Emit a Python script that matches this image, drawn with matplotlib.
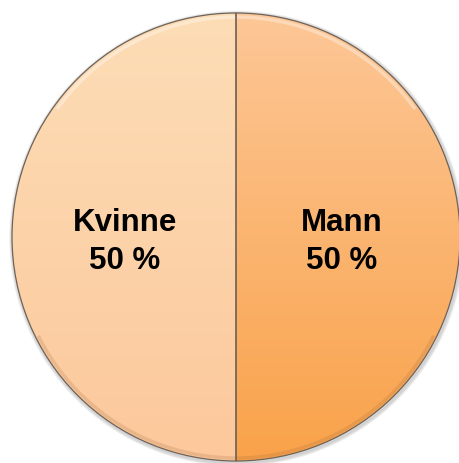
import numpy as np
import matplotlib
matplotlib.use('Agg')
import matplotlib.pyplot as plt
from matplotlib.colors import LinearSegmentedColormap

labels = ['Mann', 'Kvinne']
shares = [50, 50]
# top / bottom colour of each slice gradient
top_colors = ['#fdc797', '#fdddb6']
bottom_colors = ['#f9a24a', '#fcc89c']

plt.rcParams['font.family'] = ['Liberation Sans', 'DejaVu Sans']

fig = plt.figure(figsize=(4.59, 4.63), dpi=100)
ax = fig.add_axes([0, 0, 1, 1])

cx, cy, r = 236, 463 - 237, 224

# soft shadow
for i in range(5):
    sh = plt.Circle((cx + 1, cy - 1.5), r + 0.5 + i * 0.7, color='black', alpha=0.03, zorder=0)
    ax.add_patch(sh)

wedges, texts = ax.pie(shares, startangle=90, counterclock=False, center=(cx, cy), radius=r,
                       colors=top_colors, wedgeprops=dict(edgecolor='#6e6258', linewidth=0.9))
ax.set_xlim(0, 459)
ax.set_ylim(0, 463)
ax.set_aspect('equal')
ax.axis('off')

grad = np.linspace(1, 0, 256).reshape(-1, 1)
for w, c1, c2 in zip(wedges, top_colors, bottom_colors):
    cmap = LinearSegmentedColormap.from_list('g', [c2, c1])
    im = ax.imshow(grad, cmap=cmap, extent=(cx - r, cx + r, cy - r, cy + r), aspect='auto',
                   origin='upper', zorder=1, vmin=0, vmax=1)
    im.set_clip_path(w)
    w.set_facecolor('none')
    w.set_zorder(3)

# bevel: light rim at the top, darker rim at the bottom
theta = np.linspace(np.pi * 0.2, np.pi * 0.8, 200)
ax.plot(cx + (r - 4) * np.cos(theta), cy + (r - 4) * np.sin(theta), color='white', lw=2.5, alpha=0.35, zorder=2)
theta = np.linspace(np.pi * 1.15, np.pi * 1.85, 200)
ax.plot(cx + (r - 3) * np.cos(theta), cy + (r - 3) * np.sin(theta), color='#a06a3a', lw=2.5, alpha=0.2, zorder=2)

label_pos = [(342, 463 - 242), (125, 463 - 242)]
for (x, y), name, v in zip(label_pos, labels, shares):
    ax.text(x, y, f'{name}\n{v} %', ha='center', va='center', fontsize=22.5,
            fontweight='bold', linespacing=1.32, zorder=5)

fig.savefig('out.png', dpi=100)
